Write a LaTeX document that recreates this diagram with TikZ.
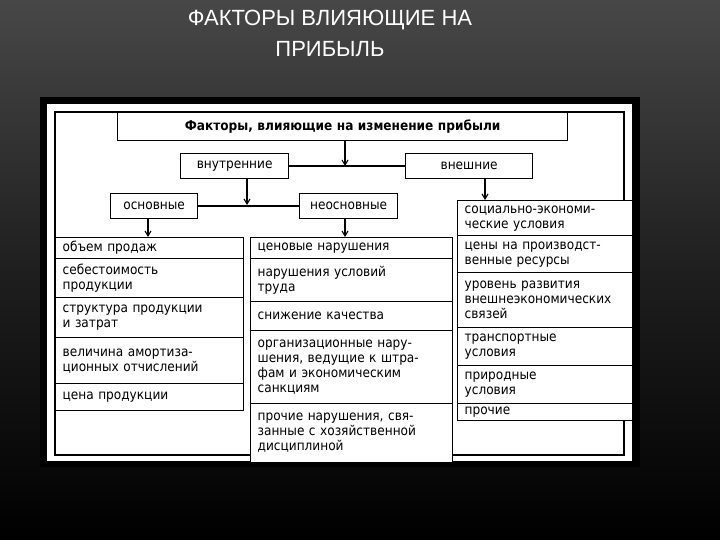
\documentclass[tikz,border=0pt]{standalone}
\usepackage{fontspec}
\setmainfont{Liberation Sans}
\newfontfamily\cellfont{DejaVu Sans Condensed}
\begin{document}
\begin{tikzpicture}[x=1pt,y=-1pt,
  cell/.style={draw=black,line width=1.3pt,fill=white,inner xsep=7pt,inner ysep=1pt,align=left,font=\cellfont\fontsize{13.5}{15}\selectfont,anchor=north west},
  ccell/.style={cell,align=center},
  conn/.style={line width=1.3pt},
  arr/.style={line width=1.1pt,-{Straight Barb[length=5pt,width=6pt]}}]
\usetikzlibrary{arrows.meta}
\newcommand\bx[7][cell]{\pgfmathsetmacro\tw{#5-#3-14}\pgfmathsetmacro\th{#6-#4}%
  \node[#1,text width=\tw pt,minimum height=\th pt] (#2) at (#3,#4) {#7};}
\useasboundingbox (0,0) rectangle (720,540);
\shade[top color=black!72,bottom color=black,middle color=black!88] (0,0) rectangle (720,540);
\node[text=white,font=\fontsize{22}{31}\selectfont,align=center] (title) at (330,33) {ФАКТОРЫ ВЛИЯЮЩИЕ НА\\ПРИБЫЛЬ};
\fill[black] (40,97) rectangle (640,467);
\fill[white] (47,104) rectangle (632,461);
\draw[line width=1.3pt] (55,112) rectangle (624,455);
% top levels
\bx[ccell]{top}{117}{112}{567}{140}{\bfseries Факторы, влияющие на изменение прибыли}
\bx[ccell]{vn}{180}{153}{288}{178}{внутренние}
\bx[ccell]{ve}{405}{153}{532}{178}{внешние}
\bx[ccell]{os}{110}{193}{197}{218}{основные}
\bx[ccell]{ne}{299}{193}{397}{218}{неосновные}
\coordinate (j1) at (345,166);
\coordinate (j2) at (247,205);
\draw[conn] (vn.east) -- (ve.west);
\draw[arr] (top.south -| j1) -- (j1);
\draw[conn] (os.east) -- (ne.west);
\draw[arr] (vn.south -| j2) -- (j2);
% left column
\bx{l1}{55}{237}{243}{258}{объем продаж}
\bx{l2}{55}{258}{243}{297}{себестоимость\\продукции}
\bx{l3}{55}{297}{243}{337}{структура продукции\\и затрат}
\bx{l4}{55}{337}{243}{383}{величина амортиза-\\ционных отчислений}
\bx{l5}{55}{383}{243}{410}{цена продукции}
% middle column
\bx{m1}{250}{237}{452}{258}{ценовые нарушения}
\bx{m2}{250}{258}{452}{301}{нарушения условий\\труда}
\bx{m3}{250}{301}{452}{330}{снижение качества}
\bx{m4}{250}{330}{452}{403}{организационные нару-\\шения, ведущие к штра-\\фам и экономическим\\санкциям}
\bx{m5}{250}{403}{452}{462}{прочие нарушения, свя-\\занные с хозяйственной\\дисциплиной}
% right column
\bx{r1}{457}{200}{632}{235}{социально-экономи-\\ческие условия}
\bx{r2}{457}{235}{632}{272}{цены на производст-\\венные ресурсы}
\bx{r3}{457}{272}{632}{327}{уровень развития\\внешнеэкономических\\связей}
\bx{r4}{457}{327}{632}{365}{транспортные\\условия}
\bx{r5}{457}{365}{632}{403}{природные\\условия}
\bx{r6}{457}{403}{632}{420}{прочие}
\draw[arr] (ve.south -| 485,0) -- (r1.north -| 485,0);
\draw[arr] (os.south -| 148,0) -- (l1.north -| 148,0);
\draw[arr] (ne.south -| 345,0) -- (m1.north -| 345,0);
\end{tikzpicture}
\end{document}
